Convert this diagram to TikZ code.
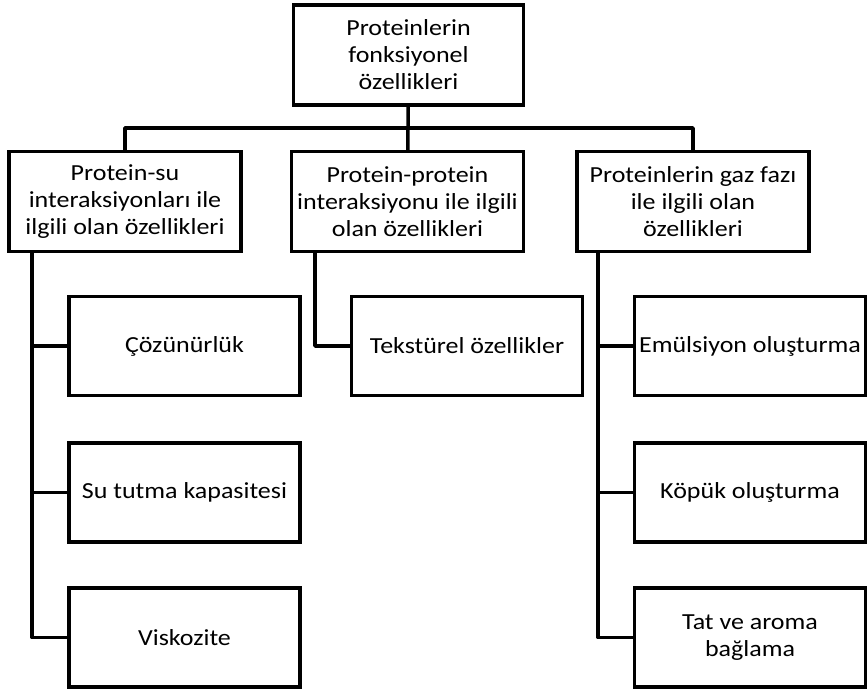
\documentclass[tikz,border=0pt]{standalone}
\usepackage{fontspec}
\setmainfont{Carlito}[FakeStretch=1.13]
\usepackage{tikz}
\usetikzlibrary{positioning}
\tikzset{
    boxnode/.style = {align=center, inner sep=0pt, text centered, rectangle, draw=black, line width=3.5pt, font=\fontsize{23}{27}\selectfont},
    root_node/.style = {boxnode, minimum width=230, minimum height=100},
    group_node/.style = {boxnode, minimum width=232, minimum height=100},
    leaf_node/.style = {boxnode, minimum width=231, minimum height=99},
    link/.style = {line width=3.5pt, line cap=round, line join=round}
}

\begin{document}
\begin{tikzpicture}[x=1pt, y=-1pt]
    \useasboundingbox (0,0) rectangle (868,691);
    % root and groups
    \node [root_node] (root) at (408.5,55) {Proteinlerin\\fonksiyonel\\özellikleri};
    \node [group_node] (grp1) at (125,201.5) {Protein-su\\interaksiyonları ile\\ilgili olan özellikleri};
    \node [group_node] (grp2) at (407.5,201.5) {Protein-protein\\interaksiyonu ile ilgili\\olan özellikleri};
    \node [group_node] (grp3) at (693,201.5) {Proteinlerin gaz fazı\\ile ilgili olan\\özellikleri};
    % leaves
    \node [leaf_node] (cozun) at (184.5,346) {Çözünürlük};
    \node [leaf_node] (sutut) at (184.5,492.5) {Su tutma kapasitesi};
    \node [leaf_node] (visko) at (184.5,637.5) {Viskozite};
    \node [leaf_node] (tekst) at (467,346) {Tekstürel özellikler};
    \node [leaf_node] (emuls) at (750,346) {Emülsiyon oluşturma};
    \node [leaf_node] (kopuk) at (750,492.5) {Köpük oluşturma};
    \node [leaf_node] (tatar) at (750,637.5) {Tat ve aroma\\bağlama};
    % connectors
    \coordinate (bus) at (408.5,128);
    \coordinate (spine1) at (32,253);
    \coordinate (spine2) at (315,253);
    \coordinate (spine3) at (598,253);
    \draw [link] (root) -- (grp2);
    \draw [link] (grp1.north) |- (bus) -| (grp3.north);
    \draw [link] (spine1) |- (visko.west);
    \draw [link] (spine1) |- (sutut.west);
    \draw [link] (spine1) |- (cozun.west);
    \draw [link] (spine2) |- (tekst.west);
    \draw [link] (spine3) |- (tatar.west);
    \draw [link] (spine3) |- (kopuk.west);
    \draw [link] (spine3) |- (emuls.west);
\end{tikzpicture}
\end{document}
